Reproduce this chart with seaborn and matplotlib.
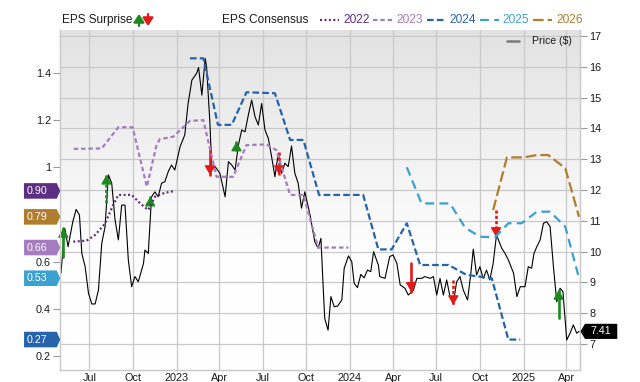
"""
EPS consensus by fiscal year vs share price, with EPS surprise arrows.
"""

import matplotlib
matplotlib.use("Agg")
import numpy as np
import pandas as pd
import matplotlib.pyplot as plt
import matplotlib.dates as mdates
from matplotlib.colors import LinearSegmentedColormap
from matplotlib.lines import Line2D
from matplotlib.patches import FancyArrowPatch
from matplotlib.path import Path
from matplotlib.ticker import FuncFormatter
import seaborn as sns

# ---- data --------------------------------------------------------------
price_dates = [
    "2022-05-02", "2022-05-10", "2022-05-17", "2022-05-27", "2022-06-03", "2022-06-10",
    "2022-06-15", "2022-06-22", "2022-06-29", "2022-07-06", "2022-07-13", "2022-07-20",
    "2022-07-27", "2022-08-03", "2022-08-10", "2022-08-17", "2022-08-24", "2022-08-31",
    "2022-09-07", "2022-09-14", "2022-09-21", "2022-09-28", "2022-10-05", "2022-10-12",
    "2022-10-23", "2022-10-26", "2022-11-02", "2022-11-09", "2022-11-16", "2022-11-23",
    "2022-11-30", "2022-12-07", "2022-12-14", "2022-12-21", "2022-12-28", "2023-01-08",
    "2023-01-18", "2023-01-25", "2023-02-02", "2023-02-12", "2023-02-16", "2023-02-23",
    "2023-03-02", "2023-03-05", "2023-03-12", "2023-03-16", "2023-03-23", "2023-04-02",
    "2023-04-13", "2023-04-20", "2023-04-27", "2023-05-04", "2023-05-11", "2023-05-18",
    "2023-05-25", "2023-06-01", "2023-06-08", "2023-06-15", "2023-06-22", "2023-06-29",
    "2023-07-06", "2023-07-13", "2023-07-20", "2023-07-27", "2023-08-03", "2023-08-10",
    "2023-08-17", "2023-08-24", "2023-08-31", "2023-09-07", "2023-09-14", "2023-09-21",
    "2023-09-28", "2023-10-09", "2023-10-19", "2023-10-26", "2023-11-01", "2023-11-06",
    "2023-11-09", "2023-11-16", "2023-11-22", "2023-11-29", "2023-12-06", "2023-12-15",
    "2023-12-20", "2023-12-29", "2024-01-05", "2024-01-10", "2024-01-17", "2024-01-24",
    "2024-01-31", "2024-02-07", "2024-02-14", "2024-02-20", "2024-03-01", "2024-03-04",
    "2024-03-15", "2024-03-25", "2024-04-01", "2024-04-09", "2024-04-16", "2024-04-26",
    "2024-05-03", "2024-05-14", "2024-05-21", "2024-05-31", "2024-06-07", "2024-06-18",
    "2024-06-25", "2024-07-02", "2024-07-09", "2024-07-16", "2024-07-23", "2024-07-30",
    "2024-08-06", "2024-08-13", "2024-08-20", "2024-08-27", "2024-09-05", "2024-09-12",
    "2024-09-17", "2024-09-24", "2024-10-01", "2024-10-08", "2024-10-15", "2024-10-22",
    "2024-10-29", "2024-11-05", "2024-11-16", "2024-11-23", "2024-11-30", "2024-12-11",
    "2024-12-18", "2024-12-25", "2025-01-04", "2025-01-11", "2025-01-18", "2025-01-23",
    "2025-01-29", "2025-02-05", "2025-02-12", "2025-02-19", "2025-02-26", "2025-03-05",
    "2025-03-12", "2025-03-19", "2025-03-25", "2025-04-02", "2025-04-09", "2025-04-16",
    "2025-04-23", "2025-04-28",
]
price_values = [
    9.30, 10.76, 10.16, 10.97, 11.37, 11.19,
    9.94, 9.51, 8.65, 8.30, 8.30, 8.75,
    10.27, 10.81, 12.49, 12.22, 11.03, 10.38,
    11.51, 11.51, 9.73, 8.86, 9.19, 9.02,
    9.62, 10.05, 9.94, 11.78, 11.94, 11.78,
    12.22, 12.27, 12.59, 12.81, 12.65, 13.40,
    13.79, 14.81, 15.57, 15.79, 15.98, 15.08,
    16.27, 16.00, 14.17, 12.65, 12.76, 12.54,
    11.78, 12.92, 12.81, 12.65, 13.46, 13.95,
    13.89, 14.44, 14.92, 14.38, 14.11, 14.81,
    13.95, 13.68, 13.08, 12.43, 13.19, 12.54,
    12.87, 12.76, 13.43, 12.54, 12.22, 11.41,
    11.94, 11.19, 10.32, 10.11, 10.43, 8.75,
    7.83, 7.45, 8.54, 8.21, 8.23, 8.43,
    9.46, 9.86, 9.67, 8.97, 8.83, 9.26,
    9.15, 9.40, 9.35, 10.00, 9.56, 9.19,
    9.13, 9.84, 9.89, 9.62, 8.92, 8.81,
    8.59, 8.75, 9.13, 9.13, 9.19, 9.13,
    9.19, 8.59, 9.13, 8.59, 9.08, 8.54,
    8.32, 9.02, 9.19, 8.75, 8.43, 9.30,
    10.08, 9.24, 9.51, 9.13, 9.40, 9.08,
    9.62, 10.54, 10.11, 9.94, 9.73, 9.30,
    8.54, 8.86, 8.86, 9.51, 9.46, 9.94,
    10.16, 10.38, 10.92, 10.97, 10.81, 9.51,
    8.37, 8.81, 8.70, 7.13, 7.35, 7.62,
    7.35, 7.41,
]

eps_2022_dates = ["2022-05-28", "2022-06-25", "2022-07-13", "2022-08-03", "2022-08-20",
                  "2022-08-31", "2022-09-28", "2022-10-16", "2022-11-02", "2022-11-16",
                  "2022-12-07", "2022-12-28"]
eps_2022_values = [0.685, 0.689, 0.713, 0.762, 0.840, 0.883, 0.883, 0.847, 0.819, 0.875,
                   0.892, 0.90]

eps_2023_dates = ["2022-05-29", "2022-07-27", "2022-08-31", "2022-09-30", "2022-10-30",
                  "2022-11-19", "2022-11-26", "2022-12-25", "2023-01-29", "2023-02-26",
                  "2023-03-26", "2023-04-30", "2023-05-28", "2023-07-09", "2023-07-30",
                  "2023-08-28", "2023-09-25", "2023-10-26", "2023-12-29"]
eps_2023_values = [1.078, 1.08, 1.17, 1.17, 0.918, 1.09, 1.119, 1.13, 1.197, 1.20,
                   0.96, 0.96, 1.094, 1.097, 1.073, 0.883, 0.883, 0.66, 0.66]

eps_2024_dates = ["2023-01-29", "2023-02-26", "2023-03-29", "2023-04-27", "2023-05-28",
                  "2023-07-27", "2023-08-28", "2023-09-25", "2023-10-28", "2024-01-29",
                  "2024-03-01", "2024-03-29", "2024-04-30", "2024-05-28", "2024-07-27",
                  "2024-09-03", "2024-10-26", "2024-11-30", "2024-12-25"]
eps_2024_values = [1.462, 1.462, 1.18, 1.18, 1.318, 1.314, 1.116, 1.116, 0.883, 0.883,
                   0.652, 0.652, 0.763, 0.586, 0.586, 0.544, 0.53, 0.27, 0.27]

eps_2025_dates = ["2024-04-30", "2024-05-31", "2024-07-30", "2024-08-31", "2024-10-01",
                  "2024-11-02", "2024-11-30", "2024-12-28", "2025-01-29", "2025-02-26",
                  "2025-03-30", "2025-04-28"]
eps_2025_values = [1.0, 0.847, 0.847, 0.744, 0.706, 0.703, 0.763, 0.763, 0.812, 0.812,
                   0.748, 0.53]

eps_2026_dates = ["2024-10-29", "2024-11-27", "2025-01-01", "2025-01-29", "2025-02-22",
                  "2025-03-30", "2025-04-28"]
eps_2026_values = [0.819, 1.042, 1.042, 1.052, 1.052, 0.996, 0.79]

years = ["2022", "2023", "2024", "2025", "2026"]
year_dates = [eps_2022_dates, eps_2023_dates, eps_2024_dates, eps_2025_dates, eps_2026_dates]
year_values = [eps_2022_values, eps_2023_values, eps_2024_values, eps_2025_values, eps_2026_values]

# EPS surprise arrows, drawn against the price scale
surprise_dates = ["2022-05-07", "2022-08-06", "2022-11-06", "2023-03-12", "2023-05-07",
                  "2023-08-05", "2024-05-09", "2024-08-06", "2024-11-04", "2025-03-16"]
surprise_from = [9.83, 11.57, 11.51, 13.41, 13.30, 13.24, 9.62, 9.08, 11.35, 7.83]
surprise_to = [10.76, 12.49, 11.78, 12.49, 13.57, 12.49, 8.70, 8.27, 10.48, 8.75]
surprise_dotted = [False, True, False, False, False, True, False, True, True, False]

last_price = 7.41

eps_ticks = [0.2, 0.4, 0.6, 0.8, 1.0, 1.2, 1.4]
eps_tick_labels = ["0.2", "0.4", "0.6", "", "1", "1.2", "1.4"]  # 0.8 sits under the 0.79 tag
price_ticks = list(range(7, 18))

# ---- styles ----------------------------------------------------------------
COLORS = {
    "2022": "#5c2d82",
    "2023": "#a57cc0",
    "2024": "#2563ab",
    "2025": "#3ba1d1",
    "2026": "#b07c2d",
}
DASHES = {
    "2022": (0, (0.9, 1.1)),
    "2023": (0, (2.0, 1.3)),
    "2024": (0, (3.0, 1.4)),
    "2025": (0, (4.0, 2.4)),
    "2026": (0, (4.8, 1.8)),
}
UP = "#1c8a1c"
DOWN = "#e31a1a"
GRID = "#c9c9c9"
TEXT = "#1a1a1a"

sns.set_style("white")
plt.rcParams["font.family"] = ["Liberation Sans", "DejaVu Sans"]


def pentagon(direction, pad_l, pad_r, pad_y, tip):
    """Box with a pointed end, for the value tags at the axis edges."""
    def style(x0, y0, width, height, mutation_size):
        l = x0 - pad_l * mutation_size
        r = x0 + width + pad_r * mutation_size
        b = y0 - pad_y * mutation_size
        t = y0 + height + pad_y * mutation_size
        m = (b + t) / 2
        k = tip * mutation_size
        if direction == "right":
            verts = [(l, b), (r, b), (r + k, m), (r, t), (l, t), (l, b)]
        else:
            verts = [(r, b), (r, t), (l, t), (l - k, m), (l, b), (r, b)]
        return Path(verts, closed=True)
    return style


def date_label(x, pos):
    d = mdates.num2date(x)
    return str(d.year) if d.month == 1 else d.strftime("%b")


W, H = 640, 382
fig = plt.figure(figsize=(W / 100, H / 100), dpi=100)
rect = [60 / W, 12 / H, 520 / W, 340 / H]

# background gradient
bg = fig.add_axes(rect, zorder=0)
cmap = LinearSegmentedColormap.from_list("bg", [(0, "#ffffff"), (0.35, "#fefefe"), (1, "#e2e2e2")])
bg.imshow(np.linspace(0, 1, 256)[:, None], cmap=cmap, aspect="auto",
          extent=[0, 1, 0, 1], origin="lower")
bg.axis("off")

ax_p = fig.add_axes(rect, zorder=1)
ax_p.patch.set_alpha(0)
ax_e = ax_p.twinx()
ax_p.yaxis.tick_right()
ax_p.yaxis.set_label_position("right")
ax_e.yaxis.tick_left()
ax_e.yaxis.set_label_position("left")

# price line
sns.lineplot(x=pd.to_datetime(price_dates), y=price_values, ax=ax_p,
             color="black", linewidth=0.8)

# surprise arrows
for d, y0, y1, dotted in zip(pd.to_datetime(surprise_dates), surprise_from, surprise_to, surprise_dotted):
    col = UP if y1 > y0 else DOWN
    ax_p.plot([d, d], [y0, y1], color=col, lw=1.9,
              linestyle=(0, (1.2, 0.8)) if dotted else "-", zorder=4)
    ax_p.annotate("", xy=(d, y1), xytext=(0, -5 if y1 > y0 else 5), textcoords="offset points",
                  arrowprops=dict(arrowstyle="-|>,head_length=0.55,head_width=0.32",
                                  color=col, lw=1.0, shrinkA=0, shrinkB=0, mutation_scale=10),
                  zorder=5)

# consensus lines
for yr, dts, vals in zip(years, year_dates, year_values):
    sns.lineplot(x=pd.to_datetime(dts), y=vals, ax=ax_e, color=COLORS[yr],
                 linewidth=1.6, linestyle=DASHES[yr])

# axes limits and ticks
ax_p.set_xlim(pd.Timestamp("2022-04-30"), pd.Timestamp("2025-04-30"))
ax_p.set_ylim(6.156, 17.195)
ax_e.set_ylim(0.141, 1.582)
ax_p.set_yticks(price_ticks)
ax_e.set_yticks(eps_ticks)
ax_e.set_yticklabels(eps_tick_labels)
ax_p.xaxis.set_major_locator(mdates.MonthLocator(bymonth=[1, 4, 7, 10]))
ax_p.xaxis.set_major_formatter(FuncFormatter(date_label))
for a in (ax_p, ax_e):
    a.set_xlabel("")
    a.set_ylabel("")

ax_p.grid(True, color=GRID, linewidth=0.9)
ax_p.set_axisbelow(True)
ax_e.grid(False)
ax_p.tick_params(axis="x", length=0, pad=2, labelsize=7.8, colors=TEXT)
ax_p.tick_params(axis="y", length=5, width=0.8, color="#9a9a9a", pad=1.5, labelsize=7.8, labelcolor=TEXT)
ax_e.tick_params(axis="y", length=5, width=0.8, color="#9a9a9a", pad=1.5, labelsize=7.8, labelcolor=TEXT)
for a in (ax_p, ax_e):
    for side in ("left", "right", "bottom"):
        a.spines[side].set_color(GRID)
        a.spines[side].set_linewidth(0.9)
    a.spines["top"].set_visible(False)

# value tags on the left (latest consensus per year)
tag_left = pentagon("right", 0.25, 0.88, 0.26, 0.32)
for yr, vals in zip(years, year_values):
    ax_e.annotate(f"{vals[-1]:.2f}", xy=(0, vals[-1]), xycoords=("axes fraction", "data"),
                  xytext=(-9.1, 0), textcoords="offset points", ha="right", va="center",
                  fontsize=7.7, color="white", annotation_clip=False, zorder=10,
                  bbox=dict(boxstyle=tag_left, fc=COLORS[yr], ec="none"))

# last price tag on the right
tag_right = pentagon("left", 0.47, 0.62, 0.24, 0.42)
ax_e.annotate(f"{last_price:.2f}", xy=(1, last_price), xycoords=("axes fraction", ax_p.transData),
              xytext=(7.2, 0), textcoords="offset points", ha="left", va="center",
              fontsize=7.7, color="white", annotation_clip=False, zorder=10,
              bbox=dict(boxstyle=tag_right, fc="black", ec="none"))

# ---- top legend ------------------------------------------------------------
def fx(px):
    return px / W


def fy(py):
    return 1 - py / H


ly = 20
fig.text(fx(62), fy(ly), "EPS Surprise", fontsize=8.5, color=TEXT, ha="left", va="center")
for xa, col, up in ((139, UP, True), (148, DOWN, False)):
    start, end = (fy(ly + 6), fy(ly - 6)) if up else (fy(ly - 6), fy(ly + 6))
    fig.patches.append(FancyArrowPatch(
        (fx(xa), start), (fx(xa), end), transform=fig.transFigure,
        arrowstyle="-|>,head_length=0.6,head_width=0.4", mutation_scale=8,
        shrinkA=0, shrinkB=0, color=col, lw=1.6))
fig.text(fx(222), fy(ly), "EPS Consensus", fontsize=8.6, color=TEXT, ha="left", va="center")
for i, yr in enumerate(years):
    x0 = 320 + i * 53.3
    fig.add_artist(Line2D([fx(x0), fx(x0 + 19)], [fy(ly), fy(ly)], transform=fig.transFigure,
                          color=COLORS[yr], lw=1.6, linestyle=DASHES[yr]))
    fig.text(fx(x0 + 23), fy(ly), yr, fontsize=8.6, color=COLORS[yr], ha="left", va="center")

fig.add_artist(Line2D([fx(507), fx(519)], [fy(41), fy(41)], transform=fig.transFigure,
                      color="#7a7a7a", lw=1.8))
fig.text(fx(532), fy(41), "Price ($)", fontsize=7.6, color=TEXT, ha="left", va="center")

fig.savefig("out.png", dpi=100)
